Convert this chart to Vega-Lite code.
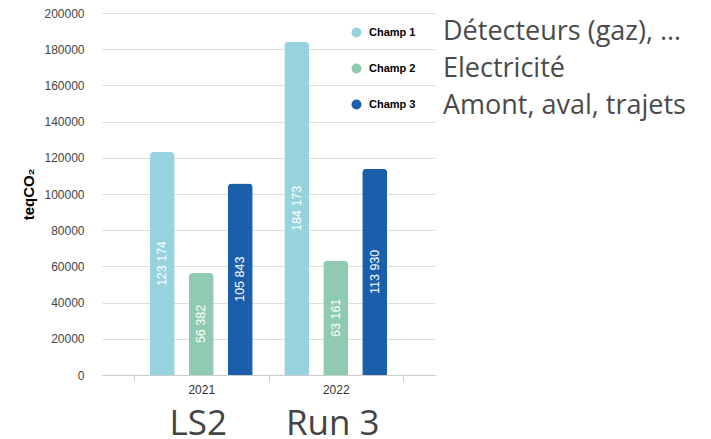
{
  "$schema": "https://vega.github.io/schema/vega-lite/v6.json",
  "autosize": {"type": "none"},
  "padding": {"left": 102, "top": 13, "right": 276, "bottom": 64},
  "width": 333,
  "height": 362,
  "config": {"view": {"stroke": null}, "font": "Liberation Sans"},
  "datasets": {
    "bars": [
      {"year": "2021", "champ": "Champ 1", "desc": "Détecteurs (gaz), …", "value": 123174, "label": "123 174"},
      {"year": "2021", "champ": "Champ 2", "desc": "Electricité", "value": 56382, "label": "56 382"},
      {"year": "2021", "champ": "Champ 3", "desc": "Amont, aval, trajets", "value": 105843, "label": "105 843"},
      {"year": "2022", "champ": "Champ 1", "desc": "Détecteurs (gaz), …", "value": 184173, "label": "184 173"},
      {"year": "2022", "champ": "Champ 2", "desc": "Electricité", "value": 63161, "label": "63 161"},
      {"year": "2022", "champ": "Champ 3", "desc": "Amont, aval, trajets", "value": 113930, "label": "113 930"}
    ],
    "periods": [
      {"year": "2021", "period": "LS2"},
      {"year": "2022", "period": "Run 3"}
    ]
  },
  "layer": [
    {
      "data": {"name": "bars"},
      "mark": {"type": "bar", "cornerRadiusTopLeft": 4, "cornerRadiusTopRight": 4},
      "encoding": {
        "x": {
          "field": "year", "type": "nominal",
          "scale": {"domain": ["2021", "2022"], "paddingInner": 0, "paddingOuter": 0.238},
          "axis": {
            "title": null, "labelAngle": 0, "tickBand": "extent", "grid": false,
            "domainColor": "#cccccc", "tickColor": "#cccccc", "tickSize": 6,
            "labelFontSize": 12, "labelColor": "#333333", "labelPadding": 3
          }
        },
        "xOffset": {
          "field": "champ", "type": "nominal",
          "scale": {"paddingInner": 0.359, "paddingOuter": 0.404}
        },
        "y": {
          "field": "value", "type": "quantitative",
          "scale": {"domain": [0, 200000], "nice": false},
          "axis": {
            "title": "teqCO₂", "titleFontSize": 15, "titleFontWeight": "bold", "titleColor": "#000000",
            "titlePadding": 7, "tickCount": 11,
            "values": [0, 20000, 40000, 60000, 80000, 100000, 120000, 140000, 160000, 180000, 200000],
            "labelOverlap": false,
            "format": "d", "domain": false, "ticks": false, "labelPadding": 18,
            "labelFontSize": 12, "labelColor": "#444444", "gridColor": "#dddddd"
          }
        },
        "color": {
          "field": "champ", "type": "nominal",
          "scale": {"domain": ["Champ 1", "Champ 2", "Champ 3"], "range": ["#97d3df", "#8ecbb1", "#1b5ea9"]},
          "legend": {
            "title": null, "orient": "none", "legendX": 249, "legendY": 14,
            "symbolType": "circle", "symbolSize": 100, "symbolStrokeWidth": 0,
            "labelFontSize": 11, "labelFontWeight": "bold", "labelColor": "#000000",
            "labelOffset": 7, "rowPadding": 24
          }
        },
        "opacity": {
          "field": "desc", "type": "nominal",
          "scale": {"domain": ["Détecteurs (gaz), …", "Electricité", "Amont, aval, trajets"], "range": [1, 1, 1]},
          "legend": {
            "title": null, "orient": "none", "legendX": 314, "legendY": 5,
            "symbolSize": 0, "symbolOpacity": 0, "symbolStrokeWidth": 0, "labelOffset": 0,
            "labelFont": "Open Sans", "labelFontSize": 27, "labelColor": "#4a4a4a",
            "labelLimit": 400, "rowPadding": 9
          }
        }
      }
    },
    {
      "data": {"name": "bars"},
      "transform": [{"calculate": "datum.value / 2", "as": "mid"}],
      "mark": {"type": "text", "angle": 270, "color": "#ffffff", "fontSize": 12.5, "align": "center", "baseline": "middle"},
      "encoding": {
        "x": {"field": "year", "type": "nominal"},
        "xOffset": {"field": "champ", "type": "nominal"},
        "y": {"field": "mid", "type": "quantitative"},
        "text": {"field": "label"}
      }
    },
    {
      "data": {"name": "periods"},
      "mark": {"type": "text", "font": "Open Sans", "fontSize": 35, "color": "#444444", "align": "center", "baseline": "alphabetic", "dx": -3},
      "encoding": {
        "x": {"field": "year", "type": "nominal"},
        "y": {"datum": -33000, "type": "quantitative"},
        "text": {"field": "period"}
      }
    }
  ]
}
